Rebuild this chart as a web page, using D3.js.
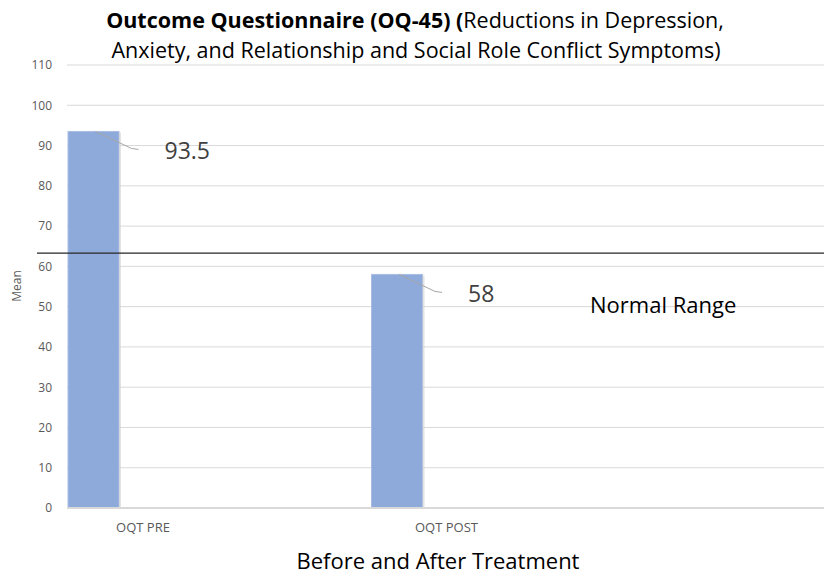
<!DOCTYPE html>
<html>
<head>
<meta charset="utf-8">
<script src="https://cdn.jsdelivr.net/npm/d3@7"></script>
<style>
  body { margin: 0; background: #fff; }
  svg { display: block; }
</style>
</head>
<body>
<svg id="chart" width="824" height="577"></svg>
<script>
// OQ-45 mean scores before and after treatment
const categories = ["OQT PRE", "OQT POST"];
const means = [93.5, 58];
const valueLabels = ["93.5", "58"];
const yTicks = [0, 10, 20, 30, 40, 50, 60, 70, 80, 90, 100, 110];
const cutoff = 63.3;           // clinical cutoff separating the normal range
const cutoffLabel = "Normal Range";
const titleBold = "Outcome Questionnaire (OQ-45) (";
const titleRest1 = "Reductions in Depression,";
const titleLine2 = "Anxiety, and Relationship and Social Role Conflict Symptoms)";
const xTitle = "Before and After Treatment";
const yTitle = "Mean";

const font = "'Open Sans', 'Noto Sans', sans-serif";
const svg = d3.select("#chart");

const plot = { left: 67, right: 824, top: 65, bottom: 508 };

const y = d3.scaleLinear().domain([0, 110]).range([plot.bottom, plot.top]);
const x = d3.scaleBand().domain(categories).range([plot.left, plot.left + 607]);
const barW = 51;

// gridlines
svg.append("g")
  .selectAll("line")
  .data(yTicks.filter(t => t > 0))
  .join("line")
  .attr("x1", plot.left).attr("x2", plot.right)
  .attr("y1", d => y(d)).attr("y2", d => y(d))
  .attr("stroke", "#d9d9d9").attr("stroke-width", 1);

// y axis labels
const yAxis = svg.append("g")
  .attr("transform", `translate(${plot.left},0)`)
  .call(d3.axisLeft(y).tickValues(yTicks).tickSize(0).tickPadding(15));
yAxis.select(".domain").remove();
yAxis.selectAll("text")
  .attr("fill", "#595959").attr("font-size", 12).attr("font-family", font);

// bars
svg.append("g")
  .selectAll("rect")
  .data(categories)
  .join("rect")
  .attr("x", d => x(d) + 1)
  .attr("width", barW)
  .attr("y", (d, i) => y(means[i]))
  .attr("height", (d, i) => plot.bottom - y(means[i]))
  .attr("fill", "#8eaadb")
  .attr("stroke", "#a9bde4").attr("stroke-width", 1);

// soft right-side shading of bars
svg.append("g")
  .selectAll("rect")
  .data(categories)
  .join("rect")
  .attr("x", d => x(d) + 1 + barW)
  .attr("width", 2)
  .attr("y", (d, i) => y(means[i]) + 1)
  .attr("height", (d, i) => plot.bottom - y(means[i]) - 1)
  .attr("fill", "#d0d0d0").attr("opacity", 0.6);

// baseline
svg.append("line")
  .attr("x1", plot.left).attr("x2", plot.right)
  .attr("y1", y(0)).attr("y2", y(0))
  .attr("stroke", "#d9d9d9").attr("stroke-width", 2);

// x category labels
svg.append("g")
  .selectAll("text")
  .data(categories)
  .join("text")
  .attr("x", d => x(d) + 76)
  .attr("y", 532)
  .attr("text-anchor", "middle")
  .attr("fill", "#595959").attr("font-size", 13).attr("font-family", font)
  .text(d => d);

// leader lines and value labels
const leaders = svg.append("g");
categories.forEach((c, i) => {
  const bx = x(c) + 1 + barW / 2 + 2;
  const by = y(means[i]);
  leaders.append("polyline")
    .attr("points", `${bx},${by} ${bx + 36},${by + 17} ${bx + 43},${by + 18}`)
    .attr("fill", "none").attr("stroke", "#a6a6a6").attr("stroke-width", 1);
});
svg.append("g")
  .selectAll("text")
  .data(categories)
  .join("text")
  .attr("x", d => x(d) + 1 + barW / 2 + 71)
  .attr("y", (d, i) => y(means[i]) + 28)
  .attr("fill", "#404040").attr("font-size", 23).attr("font-family", font)
  .text((d, i) => valueLabels[i]);

// cutoff line
svg.append("line")
  .attr("x1", 37).attr("x2", plot.right)
  .attr("y1", y(cutoff)).attr("y2", y(cutoff))
  .attr("stroke", "#262626").attr("stroke-width", 1.3);

svg.append("text")
  .attr("x", 590).attr("y", 313)
  .attr("fill", "#000").attr("font-size", 22).attr("font-family", font)
  .text(cutoffLabel);

// titles
const t1 = svg.append("text")
  .attr("x", 415).attr("y", 28)
  .attr("text-anchor", "middle")
  .attr("font-size", 21.5).attr("font-family", font).attr("fill", "#000");
t1.append("tspan").attr("font-weight", "bold").text(titleBold);
t1.append("tspan").text(titleRest1);

svg.append("text")
  .attr("x", 416).attr("y", 58)
  .attr("text-anchor", "middle")
  .attr("font-size", 21.5).attr("font-family", font).attr("fill", "#000")
  .text(titleLine2);

svg.append("text")
  .attr("x", 438).attr("y", 569)
  .attr("text-anchor", "middle")
  .attr("font-size", 22).attr("font-family", font).attr("fill", "#000")
  .text(xTitle);

svg.append("text")
  .attr("transform", "translate(21,286) rotate(-90)")
  .attr("text-anchor", "middle")
  .attr("font-size", 12).attr("font-family", font).attr("fill", "#595959")
  .text(yTitle);
</script>
</body>
</html>
